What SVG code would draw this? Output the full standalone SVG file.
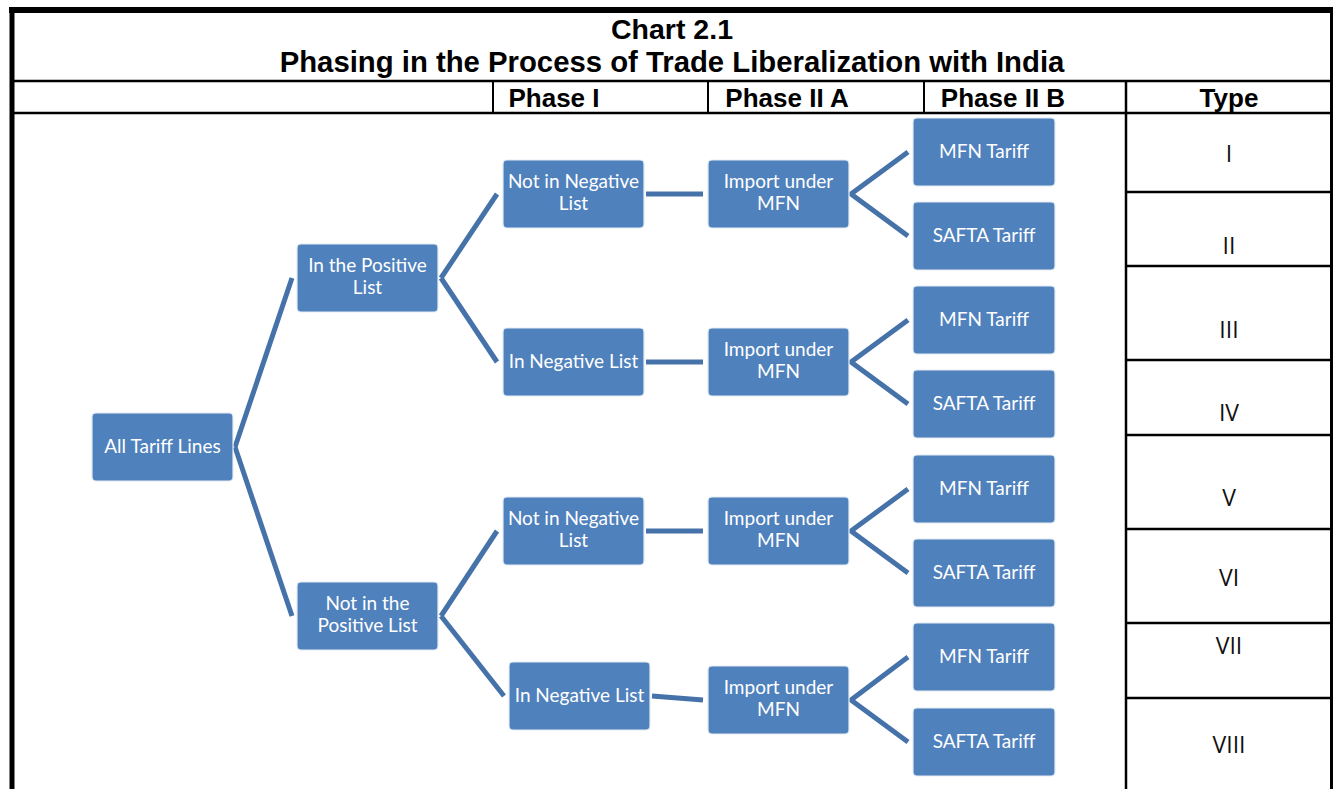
<svg xmlns="http://www.w3.org/2000/svg" width="1333" height="789" viewBox="0 0 1333 789">
<style>
.t{font-family:"Liberation Sans",Arial,sans-serif;font-weight:bold;fill:#000;text-anchor:middle}
.ty{font-family:"Open Sans","DejaVu Sans",sans-serif;font-size:23px;fill:#111;text-anchor:middle}
.box{fill:#4F81BD;stroke:#E3ECF6;stroke-width:1.2}
.lbl{font-family:Lato,"Open Sans",sans-serif;font-size:19px;fill:#fff;text-anchor:middle}
.c{stroke:#4672AA;stroke-width:5;fill:none;stroke-linecap:butt}
.g{stroke:#000;fill:none}
</style>
<rect width="1333" height="789" fill="#fff"/>
<g id="table">
<line class="g" x1="9" y1="10" x2="1333" y2="10" stroke-width="6"/>
<line class="g" x1="12" y1="7" x2="12" y2="789" stroke-width="5"/>
<line class="g" x1="1331.5" y1="7" x2="1331.5" y2="789" stroke-width="3"/>
<line class="g" x1="12" y1="81" x2="1331" y2="81" stroke-width="2.5"/>
<line class="g" x1="12" y1="113" x2="1331" y2="113" stroke-width="2.5"/>
<line class="g" x1="493" y1="81" x2="493" y2="113" stroke-width="2"/>
<line class="g" x1="708" y1="81" x2="708" y2="113" stroke-width="2"/>
<line class="g" x1="924" y1="81" x2="924" y2="113" stroke-width="2"/>
<line class="g" x1="1126" y1="81" x2="1126" y2="789" stroke-width="2.5"/>
<line class="g" x1="1126" y1="192" x2="1331" y2="192" stroke-width="2.5"/>
<line class="g" x1="1126" y1="266" x2="1331" y2="266" stroke-width="2.5"/>
<line class="g" x1="1126" y1="360" x2="1331" y2="360" stroke-width="2.5"/>
<line class="g" x1="1126" y1="435" x2="1331" y2="435" stroke-width="2.5"/>
<line class="g" x1="1126" y1="529" x2="1331" y2="529" stroke-width="2.5"/>
<line class="g" x1="1126" y1="623" x2="1331" y2="623" stroke-width="2.5"/>
<line class="g" x1="1126" y1="698" x2="1331" y2="698" stroke-width="2.5"/>
<text class="t" x="672" y="39" font-size="28.5">Chart 2.1</text>
<text class="t" x="672" y="72" font-size="29.3">Phasing in the Process of Trade Liberalization with India</text>
<text class="t" x="554" y="107" font-size="26">Phase I</text>
<text class="t" x="787" y="107" font-size="26">Phase II A</text>
<text class="t" x="1003" y="107" font-size="26">Phase II B</text>
<text class="t" x="1229" y="107" font-size="26">Type</text>
<text class="ty" x="1229" y="162">I</text>
<text class="ty" x="1229" y="254">II</text>
<text class="ty" x="1229" y="338">III</text>
<text class="ty" x="1229" y="421">IV</text>
<text class="ty" x="1229" y="506">V</text>
<text class="ty" x="1229" y="586">VI</text>
<text class="ty" x="1229" y="654">VII</text>
<text class="ty" x="1229" y="753">VIII</text>
</g>
<g id="connectors">
<line class="c" x1="235" y1="447" x2="292" y2="278"/>
<line class="c" x1="235" y1="447" x2="292" y2="616"/>
<line class="c" x1="441" y1="278" x2="497" y2="194"/>
<line class="c" x1="441" y1="278" x2="497" y2="362"/>
<line class="c" x1="441" y1="616" x2="497" y2="531"/>
<line class="c" x1="441" y1="616" x2="504" y2="696"/>
<line class="c" x1="646" y1="194" x2="703" y2="194"/>
<line class="c" x1="646" y1="362" x2="703" y2="362"/>
<line class="c" x1="646" y1="531" x2="703" y2="531"/>
<line class="c" x1="652" y1="696" x2="703" y2="700"/>
<polyline class="c" points="908,152 851,194 908,236"/>
<polyline class="c" points="908,320 851,362 908,404"/>
<polyline class="c" points="908,489 851,531 908,573"/>
<polyline class="c" points="908,657 851,700 908,742"/>
</g>
<g id="n-all"><rect class="box" x="92" y="413" width="141" height="68" rx="4"/><text class="lbl" x="162.5" y="453">All Tariff Lines</text></g>
<g id="n-inpos"><rect class="box" x="297" y="244" width="141" height="68" rx="4"/><text class="lbl" x="367.5" y="272">In the Positive</text><text class="lbl" x="367.5" y="294">List</text></g>
<g id="n-notpos"><rect class="box" x="297" y="582" width="141" height="68" rx="4"/><text class="lbl" x="367.5" y="610">Not in the</text><text class="lbl" x="367.5" y="632">Positive List</text></g>
<g id="n-notneg1"><rect class="box" x="503" y="160" width="141" height="68" rx="4"/><text class="lbl" x="573.5" y="188">Not in Negative</text><text class="lbl" x="573.5" y="210">List</text></g>
<g id="n-inneg2"><rect class="box" x="503" y="328" width="141" height="68" rx="4"/><text class="lbl" x="573.5" y="368">In Negative List</text></g>
<g id="n-notneg3"><rect class="box" x="503" y="497" width="141" height="68" rx="4"/><text class="lbl" x="573.5" y="525">Not in Negative</text><text class="lbl" x="573.5" y="547">List</text></g>
<g id="n-inneg4"><rect class="box" x="509" y="662" width="141" height="68" rx="4"/><text class="lbl" x="579.5" y="702">In Negative List</text></g>
<g id="n-imp1"><rect class="box" x="708" y="160" width="141" height="68" rx="4"/><text class="lbl" x="778.5" y="188">Import under</text><text class="lbl" x="778.5" y="210">MFN</text></g>
<g id="n-imp2"><rect class="box" x="708" y="328" width="141" height="68" rx="4"/><text class="lbl" x="778.5" y="356">Import under</text><text class="lbl" x="778.5" y="378">MFN</text></g>
<g id="n-imp3"><rect class="box" x="708" y="497" width="141" height="68" rx="4"/><text class="lbl" x="778.5" y="525">Import under</text><text class="lbl" x="778.5" y="547">MFN</text></g>
<g id="n-imp4"><rect class="box" x="708" y="666" width="141" height="68" rx="4"/><text class="lbl" x="778.5" y="694">Import under</text><text class="lbl" x="778.5" y="716">MFN</text></g>
<g id="n-mfn1"><rect class="box" x="913" y="118" width="142" height="68" rx="4"/><text class="lbl" x="984" y="158">MFN Tariff</text></g>
<g id="n-safta1"><rect class="box" x="913" y="202" width="142" height="68" rx="4"/><text class="lbl" x="984" y="242">SAFTA Tariff</text></g>
<g id="n-mfn2"><rect class="box" x="913" y="286" width="142" height="68" rx="4"/><text class="lbl" x="984" y="326">MFN Tariff</text></g>
<g id="n-safta2"><rect class="box" x="913" y="370" width="142" height="68" rx="4"/><text class="lbl" x="984" y="410">SAFTA Tariff</text></g>
<g id="n-mfn3"><rect class="box" x="913" y="455" width="142" height="68" rx="4"/><text class="lbl" x="984" y="495">MFN Tariff</text></g>
<g id="n-safta3"><rect class="box" x="913" y="539" width="142" height="68" rx="4"/><text class="lbl" x="984" y="579">SAFTA Tariff</text></g>
<g id="n-mfn4"><rect class="box" x="913" y="623" width="142" height="68" rx="4"/><text class="lbl" x="984" y="663">MFN Tariff</text></g>
<g id="n-safta4"><rect class="box" x="913" y="708" width="142" height="68" rx="4"/><text class="lbl" x="984" y="748">SAFTA Tariff</text></g>
</svg>
